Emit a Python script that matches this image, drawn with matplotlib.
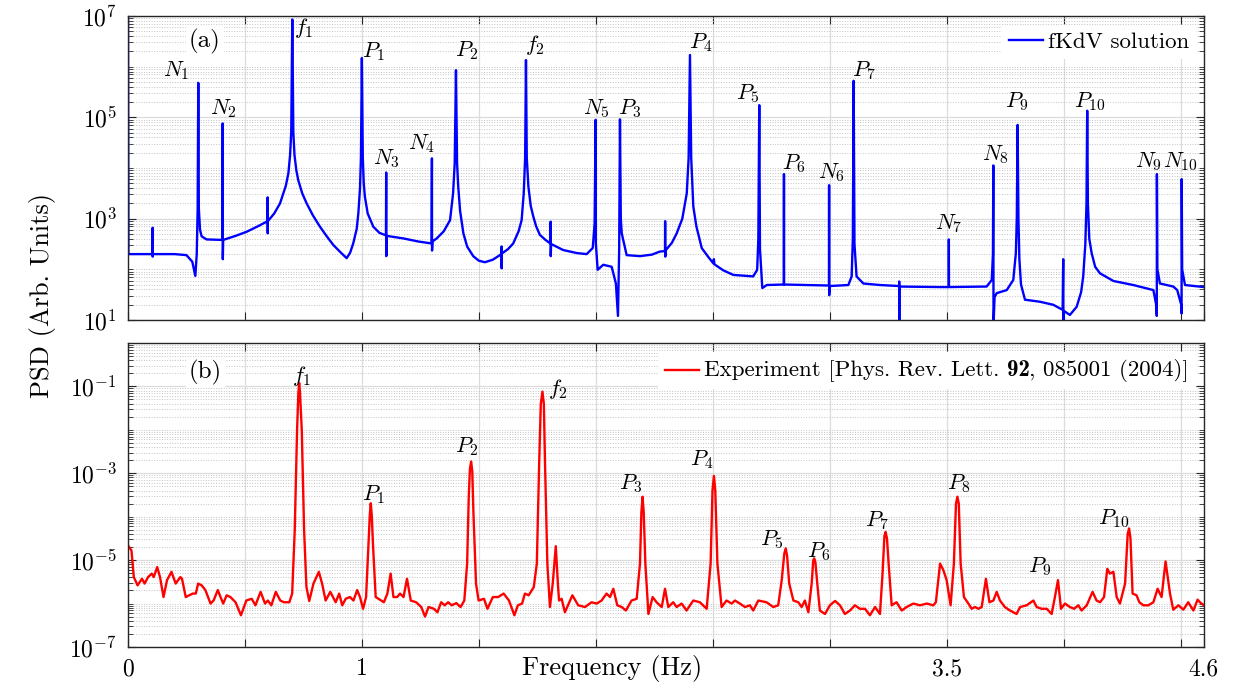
import matplotlib
matplotlib.use("Agg")
import matplotlib.pyplot as plt
import matplotlib.ticker as mticker
from matplotlib.lines import Line2D
from matplotlib.offsetbox import AnchoredOffsetbox, DrawingArea, HPacker, TextArea
import numpy as np

plt.rcParams['font.family'] = 'cmr10'
plt.rcParams['mathtext.fontset'] = 'cm'
plt.rcParams['axes.formatter.use_mathtext'] = True
plt.rcParams['axes.unicode_minus'] = False

# (a) fKdV solution: (frequency in Hz, log10 PSD)
fkdv_pts = [
    (0.000, 7.50), (0.002, 2.30), (0.105, 2.30), (0.1055, 2.82), (0.1058, 2.25), (0.106, 2.30),
    (0.200, 2.30), (0.250, 2.28), (0.275, 2.15), (0.288, 1.87), (0.294, 2.30), (0.298, 3.20),
    (0.3006, 5.68), (0.303, 3.20), (0.308, 2.78), (0.315, 2.65), (0.336, 2.59), (0.393, 2.58),
    (0.404, 2.58), (0.405, 4.88), (0.4055, 2.20), (0.407, 2.58), (0.460, 2.66), (0.507, 2.74),
    (0.560, 2.86), (0.593, 2.94), (0.597, 2.94), (0.5972, 3.42), (0.5976, 2.71), (0.598, 2.95),
    (0.625, 3.10), (0.650, 3.30), (0.675, 3.65), (0.686, 3.90), (0.693, 4.25), (0.698, 4.70),
    (0.7025, 6.93), (0.707, 4.70), (0.712, 4.25), (0.720, 3.95), (0.728, 3.76), (0.745, 3.50),
    (0.764, 3.30), (0.790, 3.07), (0.821, 2.84), (0.850, 2.65), (0.878, 2.48), (0.910, 2.33),
    (0.935, 2.22), (0.950, 2.33), (0.963, 2.51), (0.978, 2.80), (0.985, 3.11), (0.992, 3.60),
    (0.996, 4.20), (1.000, 6.17), (1.004, 4.20), (1.008, 3.70), (1.013, 3.43), (1.025, 3.10),
    (1.049, 2.84), (1.075, 2.72), (1.103, 2.67), (1.104, 3.91), (1.1045, 2.26), (1.106, 2.66),
    (1.177, 2.61), (1.240, 2.55), (1.298, 2.51), (1.2995, 4.19), (1.300, 2.37), (1.302, 2.55),
    (1.320, 2.61), (1.350, 2.75), (1.377, 2.97), (1.390, 3.50), (1.397, 4.10), (1.4023, 5.93),
    (1.407, 4.10), (1.412, 3.63), (1.420, 3.15), (1.434, 2.71), (1.450, 2.45), (1.476, 2.26),
    (1.500, 2.17), (1.526, 2.14), (1.560, 2.19), (1.590, 2.28), (1.597, 2.31), (1.5973, 2.45),
    (1.5977, 2.02), (1.598, 2.31), (1.625, 2.40), (1.647, 2.51), (1.670, 2.75), (1.683, 2.97),
    (1.692, 3.50), (1.698, 4.20), (1.7016, 6.13), (1.705, 4.20), (1.712, 3.63), (1.722, 3.25),
    (1.733, 3.04), (1.745, 2.85), (1.761, 2.68), (1.785, 2.58), (1.806, 2.51), (1.807, 2.94),
    (1.8075, 2.26), (1.809, 2.50), (1.861, 2.38), (1.920, 2.32), (1.961, 2.30), (1.987, 2.42),
    (1.995, 2.90), (1.9993, 4.95), (2.0005, 2.50), (2.008, 1.99), (2.032, 2.09), (2.068, 2.05),
    (2.086, 1.72), (2.0949, 1.08), (2.100, 2.40), (2.1035, 4.96), (2.107, 3.00), (2.111, 2.71),
    (2.132, 2.28), (2.189, 2.26), (2.240, 2.29), (2.274, 2.35), (2.296, 2.36), (2.2965, 2.95),
    (2.2972, 2.25), (2.298, 2.37), (2.325, 2.52), (2.346, 2.71), (2.370, 3.00), (2.389, 3.50),
    (2.397, 4.20), (2.4027, 6.23), (2.408, 4.20), (2.417, 3.24), (2.430, 2.85), (2.453, 2.42),
    (2.480, 2.25), (2.502, 2.12), (2.505, 2.20), (2.507, 2.10), (2.545, 1.98), (2.588, 1.89),
    (2.673, 1.86), (2.690, 1.99), (2.695, 2.60), (2.699, 5.24), (2.702, 2.40), (2.712, 1.63),
    (2.731, 1.69), (2.804, 1.70), (2.8046, 3.88), (2.805, 1.70), (2.902, 1.69), (2.997, 1.68),
    (2.9975, 3.66), (2.998, 1.49), (3.000, 1.67), (3.080, 1.69), (3.094, 1.86), (3.099, 2.60),
    (3.1025, 5.72), (3.106, 2.50), (3.115, 1.86), (3.144, 1.72), (3.215, 1.69), (3.297, 1.67),
    (3.2973, 1.76), (3.2977, 0.90), (3.298, 1.66), (3.471, 1.65), (3.509, 1.65), (3.5095, 2.59),
    (3.510, 1.65), (3.671, 1.66), (3.693, 1.79), (3.698, 2.30), (3.6996, 4.05), (3.7005, 0.90),
    (3.705, 1.45), (3.714, 1.53), (3.757, 1.59), (3.785, 1.79), (3.796, 2.32), (3.800, 3.00),
    (3.8035, 4.85), (3.807, 3.00), (3.811, 2.20), (3.818, 1.70), (3.835, 1.40), (3.899, 1.36),
    (3.956, 1.30), (3.996, 1.20), (3.9985, 2.20), (3.999, 0.90), (4.001, 1.18), (4.027, 1.10),
    (4.056, 1.26), (4.075, 1.55), (4.084, 1.86), (4.093, 2.50), (4.098, 3.30), (4.101, 5.13),
    (4.104, 3.30), (4.110, 2.60), (4.120, 2.32), (4.135, 2.05), (4.156, 1.92), (4.213, 1.77),
    (4.298, 1.69), (4.384, 1.59), (4.396, 1.30), (4.3985, 1.08), (4.399, 3.88), (4.401, 2.00),
    (4.412, 1.72), (4.469, 1.66), (4.486, 1.59), (4.503, 1.30), (4.5045, 1.13), (4.505, 3.78),
    (4.507, 2.00), (4.519, 1.69), (4.600, 1.65),
]

# (b) experiment: (frequency in Hz, log10 PSD)
exp_pts = [
    (0.000, -4.66), (0.015, -4.78), (0.025, -5.39), (0.041, -5.58), (0.060, -5.43), (0.071, -5.54),
    (0.086, -5.39), (0.102, -5.31), (0.110, -5.39), (0.125, -5.16), (0.137, -5.39), (0.152, -5.85),
    (0.167, -5.46), (0.186, -5.27), (0.204, -5.54), (0.224, -5.39), (0.231, -5.43), (0.247, -5.85),
    (0.262, -5.81), (0.277, -5.77), (0.290, -5.77), (0.300, -5.54), (0.315, -5.58), (0.331, -5.69),
    (0.353, -6.00), (0.366, -5.93), (0.384, -5.69), (0.396, -5.85), (0.407, -6.00), (0.422, -5.81),
    (0.438, -5.85), (0.460, -5.97), (0.483, -6.27), (0.506, -5.93), (0.529, -5.89), (0.545, -6.04),
    (0.567, -5.73), (0.586, -6.00), (0.598, -5.93), (0.613, -6.04), (0.632, -5.73), (0.651, -5.93),
    (0.667, -5.97), (0.690, -5.97), (0.702, -5.77), (0.713, -4.31), (0.723, -2.00), (0.7285, -1.15),
    (0.732, -0.92), (0.7355, -1.15), (0.743, -2.00), (0.753, -4.31), (0.763, -5.62), (0.775, -5.94),
    (0.793, -5.54), (0.816, -5.27), (0.830, -5.54), (0.845, -5.93), (0.865, -5.73), (0.888, -5.97),
    (0.903, -5.77), (0.916, -6.04), (0.931, -5.89), (0.949, -5.85), (0.964, -5.93), (0.980, -5.69),
    (0.992, -5.85), (1.005, -6.12), (1.018, -5.85), (1.028, -4.69), (1.034, -3.95), (1.038, -3.69),
    (1.042, -3.95), (1.048, -4.69), (1.059, -5.85), (1.071, -5.89), (1.094, -5.97), (1.109, -5.77),
    (1.123, -5.31), (1.135, -5.85), (1.151, -5.85), (1.163, -5.77), (1.178, -5.85), (1.193, -5.43),
    (1.209, -5.93), (1.232, -5.97), (1.254, -6.08), (1.270, -6.30), (1.285, -6.08), (1.308, -6.12),
    (1.323, -6.20), (1.339, -5.97), (1.354, -6.04), (1.369, -5.97), (1.384, -6.04), (1.404, -5.99),
    (1.422, -6.08), (1.438, -5.93), (1.450, -5.08), (1.457, -3.54), (1.462, -2.90), (1.467, -2.73),
    (1.472, -2.95), (1.477, -3.92), (1.488, -5.54), (1.499, -5.93), (1.522, -5.89), (1.537, -6.12),
    (1.560, -5.85), (1.583, -5.85), (1.606, -5.77), (1.629, -5.93), (1.652, -6.27), (1.667, -6.04),
    (1.685, -6.00), (1.697, -5.77), (1.713, -5.81), (1.735, -5.62), (1.748, -5.08), (1.758, -2.77),
    (1.765, -1.40), (1.772, -1.12), (1.778, -1.40), (1.783, -2.77), (1.793, -5.08), (1.804, -6.08),
    (1.816, -5.54), (1.829, -4.68), (1.838, -5.54), (1.843, -5.93), (1.854, -5.89), (1.868, -6.20),
    (1.900, -5.81), (1.925, -6.04), (1.954, -6.08), (1.982, -5.97), (2.004, -6.00), (2.025, -5.93),
    (2.046, -5.77), (2.061, -5.85), (2.075, -5.66), (2.092, -6.04), (2.111, -6.08), (2.129, -6.16),
    (2.153, -5.93), (2.175, -5.89), (2.189, -5.08), (2.195, -3.90), (2.200, -3.54), (2.205, -3.90),
    (2.212, -5.08), (2.225, -6.24), (2.243, -5.85), (2.260, -5.97), (2.282, -6.08), (2.296, -5.66),
    (2.310, -6.08), (2.331, -5.97), (2.346, -6.08), (2.367, -6.00), (2.388, -6.16), (2.417, -5.93),
    (2.445, -5.97), (2.474, -6.12), (2.491, -5.08), (2.499, -3.40), (2.505, -3.06), (2.511, -3.40),
    (2.520, -5.08), (2.538, -6.08), (2.559, -5.93), (2.581, -6.00), (2.595, -5.93), (2.616, -6.00),
    (2.638, -6.08), (2.659, -6.04), (2.673, -6.16), (2.695, -5.93), (2.730, -5.97), (2.759, -6.08),
    (2.780, -6.04), (2.795, -5.46), (2.806, -4.85), (2.812, -4.73), (2.818, -4.90), (2.827, -5.54),
    (2.845, -5.93), (2.866, -5.97), (2.880, -6.08), (2.894, -5.93), (2.909, -6.20), (2.923, -5.54),
    (2.930, -5.00), (2.934, -4.96), (2.939, -5.05), (2.947, -5.54), (2.958, -6.16), (2.980, -6.24),
    (3.001, -6.04), (3.023, -5.94), (3.044, -6.04), (3.065, -6.24), (3.087, -6.16), (3.108, -6.04),
    (3.129, -6.12), (3.151, -6.12), (3.172, -6.27), (3.194, -6.08), (3.215, -6.24), (3.226, -5.31),
    (3.234, -4.45), (3.239, -4.35), (3.245, -4.50), (3.252, -5.08), (3.265, -6.04), (3.286, -5.97),
    (3.308, -6.16), (3.329, -6.08), (3.358, -6.00), (3.386, -6.04), (3.415, -6.00), (3.443, -6.04),
    (3.454, -5.97), (3.472, -5.08), (3.486, -5.23), (3.500, -5.46), (3.517, -6.04), (3.531, -5.08),
    (3.540, -3.70), (3.546, -3.54), (3.552, -3.70), (3.560, -5.08), (3.574, -5.85), (3.593, -6.00),
    (3.607, -6.12), (3.621, -6.08), (3.636, -6.12), (3.650, -6.08), (3.668, -5.43), (3.683, -5.97),
    (3.700, -5.93), (3.714, -5.73), (3.728, -5.93), (3.749, -6.08), (3.771, -6.16), (3.799, -6.24),
    (3.814, -6.08), (3.842, -6.04), (3.871, -5.93), (3.885, -6.08), (3.906, -6.12), (3.928, -6.12),
    (3.949, -6.24), (3.963, -5.85), (3.976, -5.46), (3.989, -6.12), (4.006, -6.00), (4.027, -6.08),
    (4.045, -6.12), (4.063, -6.04), (4.077, -6.16), (4.099, -6.04), (4.124, -5.73), (4.141, -5.93),
    (4.156, -5.97), (4.173, -5.85), (4.187, -5.20), (4.198, -5.31), (4.213, -5.27), (4.227, -5.85),
    (4.241, -6.00), (4.263, -5.54), (4.274, -4.40), (4.280, -4.27), (4.286, -4.50), (4.295, -5.77),
    (4.312, -5.81), (4.324, -5.97), (4.341, -6.04), (4.362, -6.04), (4.384, -5.97), (4.402, -5.66),
    (4.419, -5.85), (4.436, -5.03), (4.455, -5.77), (4.469, -6.14), (4.491, -6.04), (4.512, -6.14),
    (4.533, -5.97), (4.555, -6.16), (4.573, -5.91), (4.583, -5.97), (4.600, -6.04),
]

# peak labels: text, frequency, log10 position
labels_a = [(r'$N_1$', 0.208, 5.93), (r'$N_2$', 0.407, 5.18), (r'$f_1$', 0.752, 6.76),
            (r'$P_1$', 1.049, 6.30), (r'$N_3$', 1.106, 4.19), (r'$N_4$', 1.256, 4.49),
            (r'$P_2$', 1.448, 6.32), (r'$f_2$', 1.740, 6.43), (r'$N_5$', 2.004, 5.18),
            (r'$P_3$', 2.146, 5.18), (r'$P_4$', 2.450, 6.47), (r'$P_5$', 2.649, 5.47),
            (r'$P_6$', 2.847, 4.09), (r'$N_6$', 3.008, 3.90), (r'$P_7$', 3.147, 5.92),
            (r'$N_7$', 3.510, 2.91), (r'$N_8$', 3.707, 4.26), (r'$P_9$', 3.799, 5.31),
            (r'$P_{10}$', 4.113, 5.31), (r'$N_9$', 4.362, 4.12), (r'$N_{10}$', 4.498, 4.12)]
labels_b = [(r'$f_1$', 0.743, -0.77), (r'$P_1$', 1.048, -3.50), (r'$P_2$', 1.450, -2.38),
            (r'$f_2$', 1.840, -1.06), (r'$P_3$', 2.149, -3.23), (r'$P_4$', 2.453, -2.69),
            (r'$P_5$', 2.752, -4.52), (r'$P_6$', 2.951, -4.81), (r'$P_7$', 3.201, -4.08),
            (r'$P_8$', 3.550, -3.23), (r'$P_9$', 3.899, -5.14), (r'$P_{10}$', 4.213, -4.04)]

xticks = [0, 0.5, 1, 1.5, 2, 2.5, 3, 3.5, 4, 4.5, 4.6]
xticklabels = ['0', '', '1', '', '', '', '', '3.5', '', '', '4.6']

f_fkdv, lg_fkdv = np.array(fkdv_pts).T
f_exp, lg_exp = np.array(exp_pts).T

fig = plt.figure(figsize=(12.4, 6.88), dpi=100)
ax1 = fig.add_axes([0.1032, 0.5349, 0.8677, 0.4419])
ax2 = fig.add_axes([0.1032, 0.0596, 0.8677, 0.4419])

ax1.plot(f_fkdv, 10 ** lg_fkdv, color='#0000ff', lw=1.7, label='fKdV solution')
ax2.plot(f_exp, 10 ** lg_exp, color='#ff0000', lw=1.7)


def expfmt(v, pos):
    return r'$10^{%d}$' % int(round(np.log10(v)))


for ax, ylim, majors in [(ax1, (1e1, 1e7), [1e1, 1e3, 1e5, 1e7]),
                         (ax2, (1e-7, 1e0), [1e-7, 1e-5, 1e-3, 1e-1])]:
    ax.set_yscale('log')
    ax.set_xlim(0, 4.6)
    ax.set_ylim(*ylim)
    ax.yaxis.set_major_locator(mticker.FixedLocator(majors))
    ax.yaxis.set_major_formatter(mticker.FuncFormatter(expfmt))
    ax.yaxis.set_minor_locator(mticker.LogLocator(base=10, subs=np.arange(1, 10), numticks=50))
    ax.yaxis.set_minor_formatter(mticker.NullFormatter())
    ax.set_xticks(xticks)
    ax.grid(True, which='major', color='#dcdcdc', lw=0.9, ls='-')
    ax.grid(True, which='minor', axis='y', color='#c4c4c4', lw=0.7, ls=':')
    ax.set_axisbelow(True)
    ax.tick_params(which='both', direction='in', top=True, right=True,
                   labelsize=17, color='#262626', pad=8)
    ax.tick_params(which='major', length=6, width=0.8)
    ax.tick_params(which='minor', length=3.5, width=0.6)
    for s in ax.spines.values():
        s.set_color('#262626')
        s.set_linewidth(1.0)

ax1.set_xticklabels([''] * len(xticks))
ax2.set_xticklabels(xticklabels)

ax1.legend(loc='upper right', bbox_to_anchor=(0.997, 0.985), fontsize=16.5,
           frameon=True, fancybox=False, framealpha=1, edgecolor='none',
           handlelength=1.5, handletextpad=0.2, borderpad=0.3, borderaxespad=0.2)

# legend of (b) built by hand so that "92" can be set in bold
fs = 16.5
da = DrawingArea(1.5 * fs, 8, 0, 0)
da.add_artist(Line2D([0, 1.5 * fs], [4, 4], color='#ff0000', lw=1.7))
t_pre = TextArea('Experiment [Phys. Rev. Lett.', textprops=dict(fontsize=fs))
t_bold = TextArea('92', textprops=dict(fontsize=fs, family='cmb10'))
t_post = TextArea(', 085001 (2004)]', textprops=dict(fontsize=fs))
inner = HPacker(children=[t_bold, t_post], align='baseline', pad=0, sep=0)
texts = HPacker(children=[t_pre, inner], align='baseline', pad=0, sep=0.333 * fs)
box = HPacker(children=[da, texts], align='center', pad=0, sep=0.2 * fs)
anch = AnchoredOffsetbox(loc='upper right', child=box, pad=0.3, borderpad=0.2,
                         frameon=True, prop=dict(size=fs),
                         bbox_to_anchor=(0.997, 0.985), bbox_transform=ax2.transAxes)
anch.patch.set_facecolor('white')
anch.patch.set_edgecolor('none')
ax2.add_artist(anch)

for txt, x, ly in labels_a:
    ax1.text(x, 10 ** ly, txt, ha='center', va='center', fontsize=16)
for txt, x, ly in labels_b:
    ax2.text(x, 10 ** ly, txt, ha='center', va='center', fontsize=16)

ax1.text(0.329, 10 ** 6.49, '(a)', ha='center', va='center', fontsize=18,
         bbox=dict(facecolor='white', edgecolor='none', pad=2))
ax2.text(0.331, 10 ** -0.69, '(b)', ha='center', va='center', fontsize=18,
         bbox=dict(facecolor='white', edgecolor='none', pad=2))

fig.text(0.4935, 0.029, 'Frequency (Hz)', ha='center', va='center', fontsize=19)
fig.text(0.034, 0.571, 'PSD (Arb. Units)', ha='center', va='center', rotation=90, fontsize=19)

fig.savefig('out.png', dpi=100)
